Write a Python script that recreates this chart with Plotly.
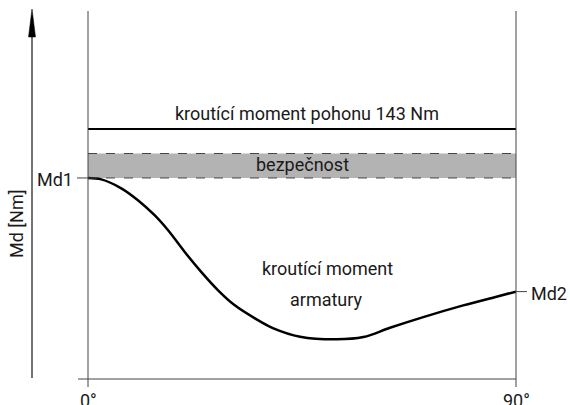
import plotly.graph_objects as go

# --- data ---
angle_deg = [0, 2.8, 7.0, 10.5, 14.0, 16.8, 20.3, 23.8, 27.3, 30.8, 35.1, 39.0,
             44.6, 52.3, 57.9, 63.5, 70.5, 78.9, 85.9, 90]
valve_torque = [115, 114.2, 109.1, 102.3, 93.7, 85.2, 72.8, 61.3, 50.9, 42.3, 34.7, 29.0,
                24.2, 22.7, 24.0, 29.3, 35.4, 42.1, 47.1, 50]
drive_torque = 143          # kroutící moment pohonu
safety_band = [115, 129]    # bezpečnost
x_ticks = [0, 90]
x_tick_labels = ["0°", "90°"]

W, H = 570, 405
L, R, T, B = 88, 54, 10, 26
Y_MAX = 211.1
FONT = "Roboto, sans-serif"
TXT = "#1a1a1a"
AX = "#444444"

pw = W - L - R
ph = H - T - B


def px_x(px):
    return (px - L) / pw


def px_y(py):
    return (H - B - py) / ph


fig = go.Figure()
fig.add_trace(go.Scatter(
    x=angle_deg, y=valve_torque, mode="lines",
    line=dict(color="black", width=2.5, shape="spline", smoothing=1.0),
    hoverinfo="skip", showlegend=False))

shapes = []
# safety band
shapes.append(dict(type="rect", xref="x", yref="y", x0=0, x1=90,
                   y0=safety_band[0], y1=safety_band[1],
                   fillcolor="#b3b3b3", line=dict(width=0), layer="below"))
for yv in safety_band:
    shapes.append(dict(type="line", xref="x", yref="y", x0=0, x1=90, y0=yv, y1=yv,
                       line=dict(color=AX, width=1, dash="dash")))
# drive torque line
shapes.append(dict(type="line", xref="x", yref="y", x0=0, x1=90,
                   y0=drive_torque, y1=drive_torque,
                   line=dict(color="black", width=2)))
# vertical frame lines
for xp in (0, 1):
    shapes.append(dict(type="line", xref="paper", yref="paper", x0=xp, x1=xp,
                       y0=px_y(387), y1=px_y(11), line=dict(color=AX, width=1)))
# horizontal axis
shapes.append(dict(type="line", xref="paper", yref="paper", x0=px_x(78), x1=1,
                   y0=0, y1=0, line=dict(color=AX, width=1)))
# left arrow axis
shapes.append(dict(type="line", xref="paper", yref="paper", x0=px_x(32), x1=px_x(32),
                   y0=px_y(378), y1=px_y(30), line=dict(color=AX, width=1.5)))
shapes.append(dict(type="path", xref="paper", yref="paper",
                   path=f"M {px_x(32)},{px_y(9)} L {px_x(28.5)},{px_y(37)} L {px_x(35.5)},{px_y(37)} Z",
                   fillcolor="black", line=dict(color="black", width=0.5)))
# Md1 / Md2 ticks
shapes.append(dict(type="line", xref="paper", yref="y", x0=px_x(77), x1=0,
                   y0=valve_torque[0], y1=valve_torque[0], line=dict(color=AX, width=1)))
shapes.append(dict(type="line", xref="paper", yref="y", x0=1, x1=px_x(527),
                   y0=valve_torque[-1], y1=valve_torque[-1], line=dict(color=AX, width=1)))

font = dict(family=FONT, size=18, color=TXT)
ann = []
ann.append(dict(x=px_x(307), y=px_y(114), xref="paper", yref="paper",
                text=f"kroutící moment pohonu {drive_torque} Nm",
                showarrow=False, font=font, xanchor="center", yanchor="middle"))
ann.append(dict(x=px_x(302), y=px_y(165), xref="paper", yref="paper", text="bezpečnost",
                showarrow=False, font=font, xanchor="center", yanchor="middle"))
ann.append(dict(x=px_x(327), y=px_y(268), xref="paper", yref="paper", text="kroutící moment",
                showarrow=False, font=font, xanchor="center", yanchor="middle"))
ann.append(dict(x=px_x(326), y=px_y(299), xref="paper", yref="paper", text="armatury",
                showarrow=False, font=font, xanchor="center", yanchor="middle"))
ann.append(dict(x=px_x(75), y=px_y(180), xref="paper", yref="paper", text="Md1",
                showarrow=False, font=font, xanchor="right", yanchor="middle"))
ann.append(dict(x=px_x(529), y=px_y(293), xref="paper", yref="paper", text="Md2",
                showarrow=False, font=font, xanchor="left", yanchor="middle"))
ann.append(dict(x=px_x(16), y=px_y(224), xref="paper", yref="paper", text="Md [Nm]",
                textangle=-90, showarrow=False, font=font, xanchor="center", yanchor="middle"))
for xv, lab in zip(x_ticks, x_tick_labels):
    ann.append(dict(x=xv, y=px_y(400), xref="x", yref="paper", text=lab,
                    showarrow=False, font=font, xanchor="center", yanchor="middle"))

fig.update_layout(
    width=W, height=H, margin=dict(l=L, r=R, t=T, b=B),
    plot_bgcolor="white", paper_bgcolor="white",
    xaxis=dict(range=[0, 90], visible=False),
    yaxis=dict(range=[0, Y_MAX], visible=False),
    shapes=shapes, annotations=ann, showlegend=False,
)
fig.write_html("out.html", config={"displayModeBar": False},
               post_script="document.body.style.margin='0';document.body.style.overflow='hidden';")
